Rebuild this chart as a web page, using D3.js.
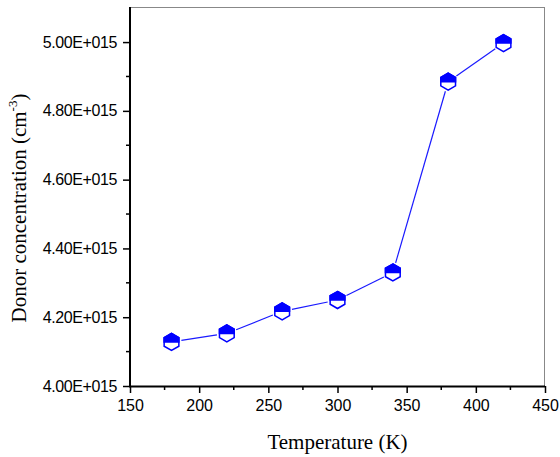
<!DOCTYPE html>
<html>
<head>
<meta charset="utf-8">
<script src="https://cdn.jsdelivr.net/npm/d3@7"></script>
<style>
  body { margin: 0; background: #fff; }
  .tick text { font-family: Arial, "Liberation Sans", sans-serif; font-size: 16px; fill: #000; }
  .y_axis .tick text { letter-spacing: -0.4px; }
  .axis_title { font-family: "Times New Roman", "Liberation Serif", serif; font-size: 21px; fill: #000; }
</style>
</head>
<body>
<div class="chart"></div>
<script>
// data
var temperature = [180, 220, 260, 300, 340, 380, 420];
var donor_conc = [4.128e15, 4.153e15, 4.217e15, 4.250e15, 4.330e15, 4.885e15, 4.997e15];
var x_ticks = [150, 200, 250, 300, 350, 400, 450];
var y_ticks = [4.0e15, 4.2e15, 4.4e15, 4.6e15, 4.8e15, 5.0e15];

var margin = { top: 7, right: 15, bottom: 71, left: 130 },
    width = 560 - margin.left - margin.right,
    height = 457 - margin.top - margin.bottom;

var svg = d3.select(".chart")
    .append("svg")
    .attr("width", 560)
    .attr("height", 457)
    .append("g")
    .attr("transform", "translate(" + margin.left + "," + margin.top + ")");

var x = d3.scaleLinear().domain([150, 450]).range([0, width]);
var y = d3.scaleLinear().domain([4.0e15, 5.102e15]).range([height, 0]);

// frame top / right (grey, thin)
svg.append("line")
    .attr("x1", 0).attr("x2", width).attr("y1", 0.5).attr("y2", 0.5)
    .attr("stroke", "#888").attr("stroke-width", 1);
svg.append("line")
    .attr("x1", width - 0.5).attr("x2", width - 0.5).attr("y1", 0).attr("y2", height)
    .attr("stroke", "#888").attr("stroke-width", 1);

// minor ticks
var xMinor = d3.range(175, 450, 50);
var yMinor = d3.range(4.1e15, 5.05e15, 0.2e15);
svg.selectAll(".xminor").data(xMinor).enter().append("line")
    .attr("x1", function (d) { return x(d); })
    .attr("x2", function (d) { return x(d); })
    .attr("y1", height).attr("y2", height + 4)
    .attr("stroke", "black").attr("stroke-width", 1.5);
svg.selectAll(".yminor").data(yMinor).enter().append("line")
    .attr("y1", function (d) { return y(d); })
    .attr("y2", function (d) { return y(d); })
    .attr("x1", 0).attr("x2", -4)
    .attr("stroke", "black").attr("stroke-width", 1.5);

var xAxis = d3.axisBottom(x).tickValues(x_ticks).tickSize(7).tickPadding(7);
var yAxis = d3.axisLeft(y).tickValues(y_ticks).tickSize(7).tickPadding(6)
    .tickFormat(function (d) { return (d / 1e15).toFixed(2) + "E+015"; });

var gx = svg.append("g").attr("class", "x_axis").attr("transform", "translate(0," + height + ")").call(xAxis);
var gy = svg.append("g").attr("class", "y_axis").call(yAxis);
[gx, gy].forEach(function (g) {
    g.select(".domain").attr("stroke", "black").attr("stroke-width", 2);
    g.selectAll(".tick line").attr("stroke", "black").attr("stroke-width", 1.5);
});
gx.select(".domain").attr("d", "M-1,0.5H" + width);
gy.select(".domain").attr("d", "M0,0V" + (height + 1));

// connecting line, stopping short of the markers
var gap = 10;
for (var i = 0; i < temperature.length - 1; i++) {
    var x1 = x(temperature[i]), y1 = y(donor_conc[i]);
    var x2 = x(temperature[i + 1]), y2 = y(donor_conc[i + 1]);
    var len = Math.sqrt((x2 - x1) * (x2 - x1) + (y2 - y1) * (y2 - y1));
    var ux = (x2 - x1) / len, uy = (y2 - y1) / len;
    svg.append("line")
        .attr("x1", x1 + ux * gap).attr("y1", y1 + uy * gap)
        .attr("x2", x2 - ux * gap).attr("y2", y2 - uy * gap)
        .attr("stroke", "#1a1aff").attr("stroke-width", 1.2);
}

// half-filled hexagon markers
var r = 8.5, c = r * Math.cos(Math.PI / 6);
var hexFull = "M0," + (-r) + "L" + c + "," + (-r / 2) + "L" + c + "," + (r / 2) +
    "L0," + r + "L" + (-c) + "," + (r / 2) + "L" + (-c) + "," + (-r / 2) + "Z";
var hexTop = "M0," + (-r) + "L" + c + "," + (-r / 2) + "L" + c + ",0L" + (-c) + ",0L" + (-c) + "," + (-r / 2) + "Z";

var pts = svg.selectAll(".pt").data(temperature).enter().append("g")
    .attr("transform", function (d, i) { return "translate(" + x(d) + "," + y(donor_conc[i]) + ")"; });
pts.append("path").attr("d", hexFull).attr("fill", "white").attr("stroke", "#0000ff").attr("stroke-width", 1.5);
pts.append("path").attr("d", hexTop).attr("fill", "#0000ff").attr("stroke", "#0000ff").attr("stroke-width", 1.5);

// axis titles
svg.append("text").attr("class", "axis_title")
    .attr("x", width / 2).attr("y", height + 63)
    .style("text-anchor", "middle")
    .text("Temperature (K)");

var yt = svg.append("text").attr("class", "axis_title")
    .attr("transform", "translate(" + (26 - margin.left) + "," + (208 - margin.top) + ") rotate(-90)")
    .style("text-anchor", "middle");
yt.append("tspan").text("Donor concentration (cm");
yt.append("tspan").attr("dy", -9).style("font-size", "13px").text("-3");
yt.append("tspan").attr("dy", 9).text(")");
</script>
</body>
</html>
